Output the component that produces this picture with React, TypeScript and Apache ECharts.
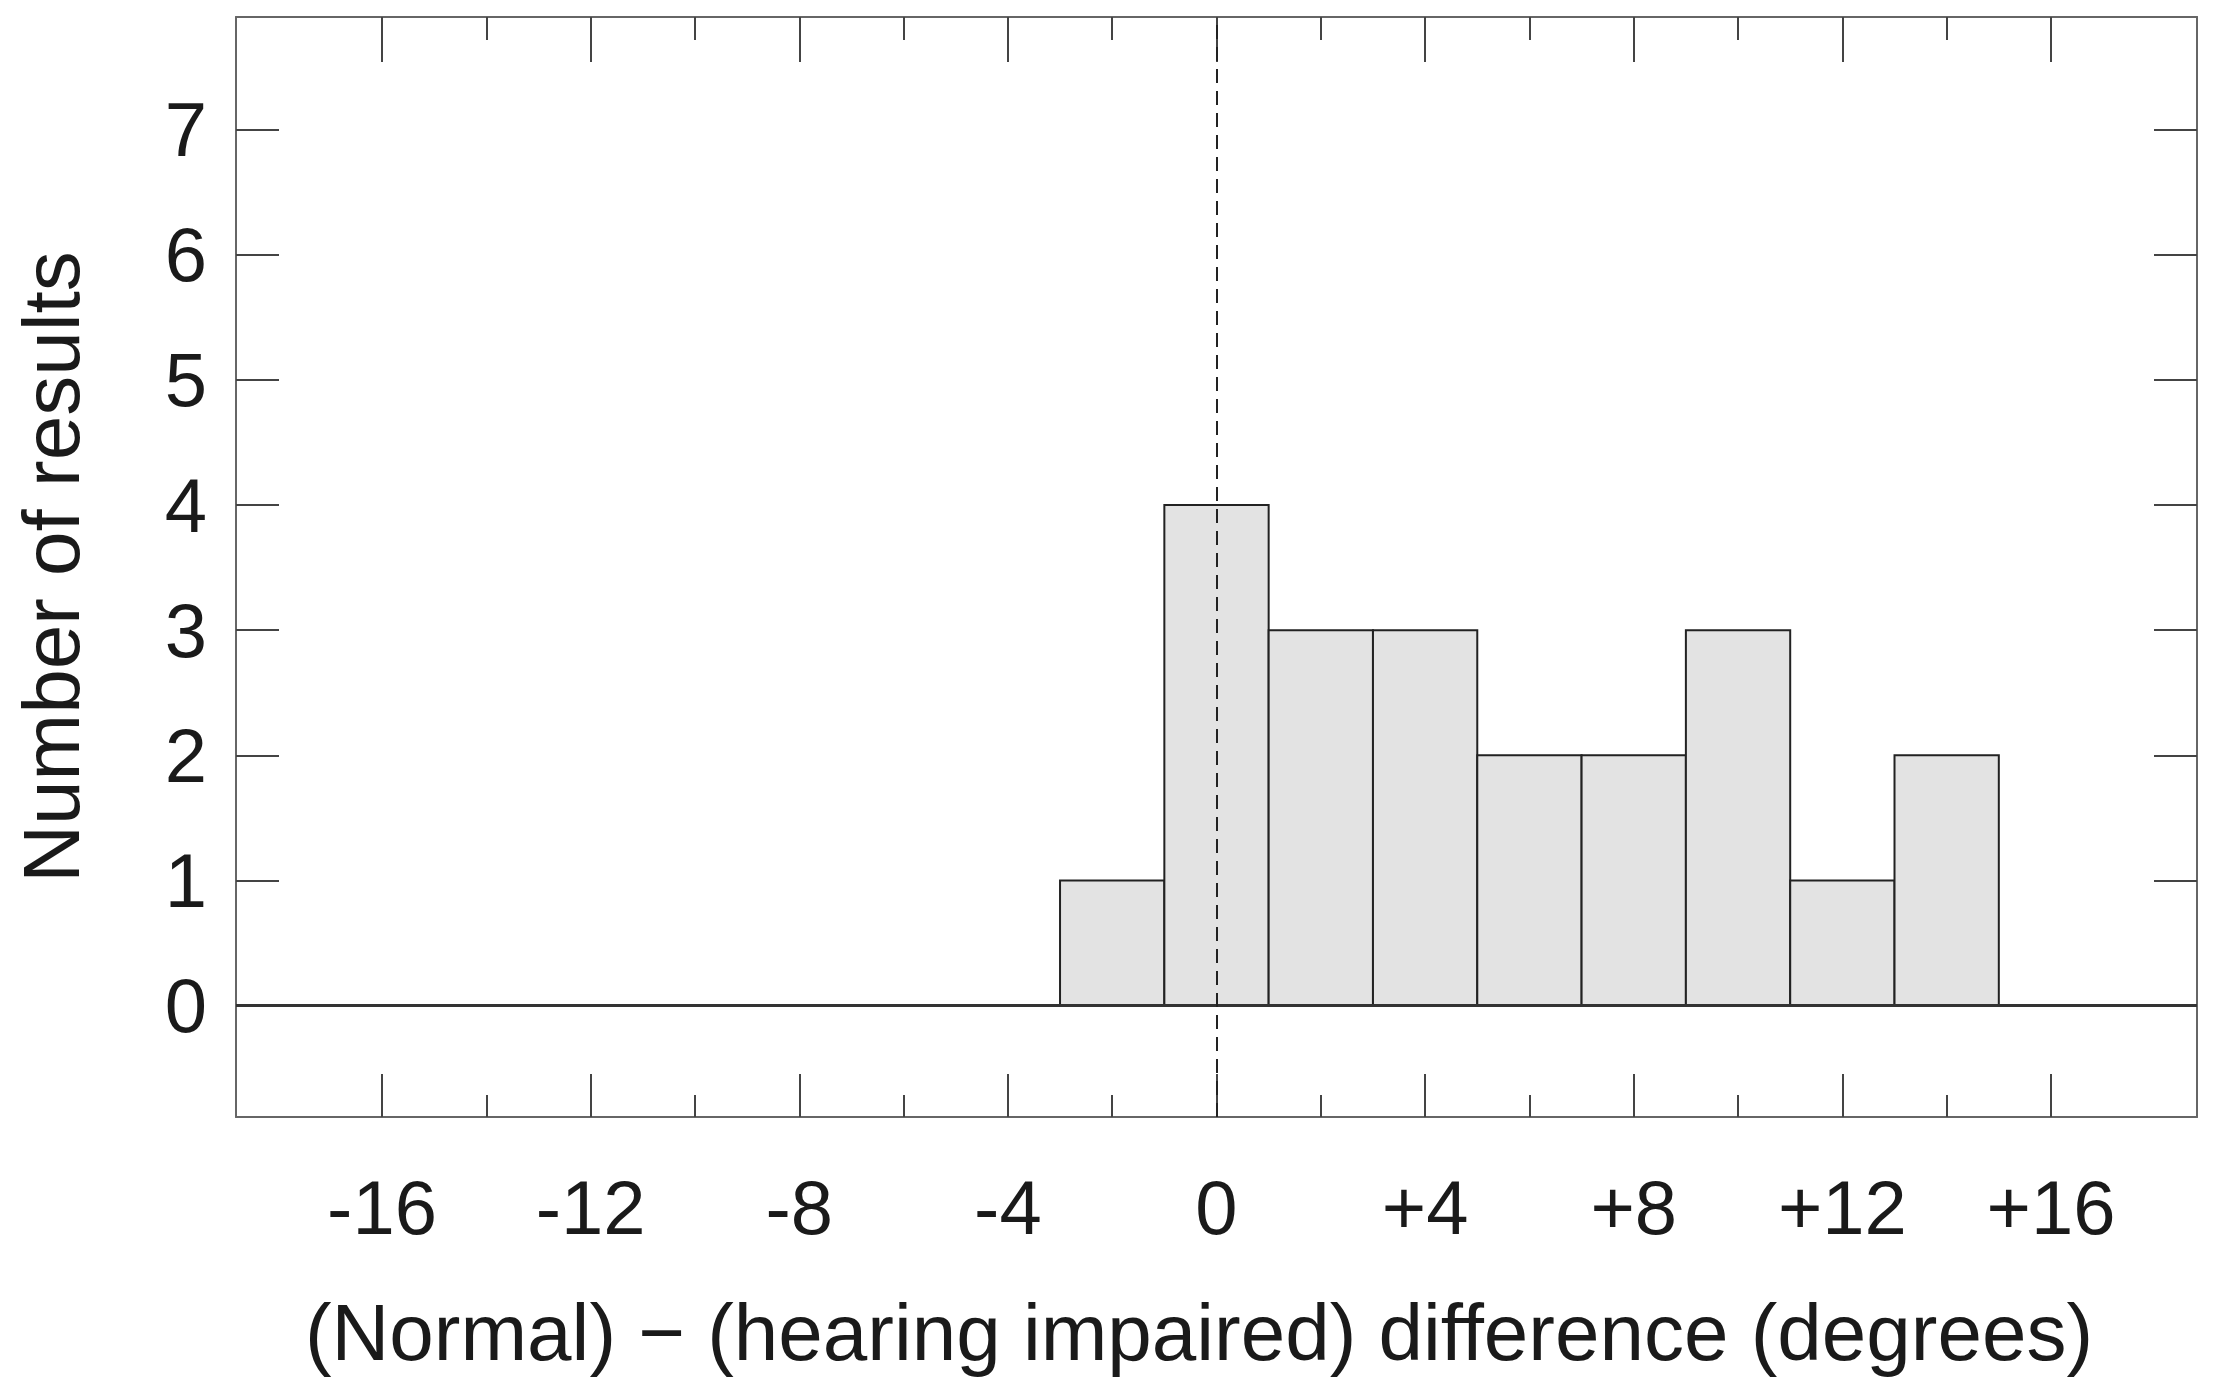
import React, { useEffect, useRef } from "react";
import * as echarts from "echarts";

// Histogram bins (degrees) and counts
const binStarts = [-3, -1, 1, 3, 5, 7, 9, 11, 13];
const binEnds = [-1, 1, 3, 5, 7, 9, 11, 13, 15];
const counts = [1, 4, 3, 3, 2, 2, 3, 1, 2];

// Axis ticks / labels
const xLabelValues = [-16, -12, -8, -4, 0, 4, 8, 12, 16];
const xMajorTicks = [-16, -12, -8, -4, 0, 4, 8, 12, 16];
const xMinorTicks = [-14, -10, -6, -2, 2, 6, 10, 14];
const yTicks = [0, 1, 2, 3, 4, 5, 6, 7];

const X_MIN = -18.8;
const X_MAX = 18.8;
const Y_MIN = -0.89;
const Y_MAX = 7.9;

const FONT = "'Liberation Sans', Arial, sans-serif";
const TEXT = "#1a1a1a";
const LINE = "#666";
const TICK = "#444";

function xAxisBase(position: "top" | "bottom", ticks: number[], len: number, showLine: boolean, showLabel: boolean, extra: any = {}) {
  return {
    type: "value",
    position,
    min: X_MIN,
    max: X_MAX,
    splitLine: { show: false },
    axisLine: { show: showLine, onZero: false, lineStyle: { color: LINE, width: 2 } },
    axisTick: {
      show: true,
      inside: true,
      length: len,
      customValues: ticks,
      lineStyle: { color: TICK, width: 2 },
    },
    axisLabel: showLabel
      ? {
          show: true,
          customValues: xLabelValues,
          margin: 52,
          fontSize: 76,
          fontFamily: FONT,
          color: TEXT,
          formatter: (v: number) => (v > 0 ? "+" + v : String(v)),
        }
      : { show: false },
    ...extra,
  };
}

function yAxisBase(position: "left" | "right", showLabel: boolean, extra: any = {}) {
  return {
    type: "value",
    position,
    min: Y_MIN,
    max: Y_MAX,
    splitLine: { show: false },
    axisLine: { show: true, onZero: false, lineStyle: { color: LINE, width: 2 } },
    axisTick: {
      show: true,
      inside: true,
      length: 43,
      customValues: yTicks,
      lineStyle: { color: TICK, width: 2 },
    },
    axisLabel: showLabel
      ? {
          show: true,
          customValues: yTicks,
          margin: 29,
          fontSize: 76,
          fontFamily: FONT,
          color: TEXT,
        }
      : { show: false },
    ...extra,
  };
}

export default function App() {
  const ref = useRef<HTMLDivElement>(null);

  useEffect(() => {
    if (!ref.current) return;
    const chart = echarts.init(ref.current, null, { renderer: "svg" });

    const option: any = {
      animation: false,
      backgroundColor: "#ffffff",
      grid: { left: 236, right: 20, top: 17, bottom: 283, containLabel: false },
      xAxis: [
        xAxisBase("bottom", xMajorTicks, 43, true, true, {
          name: "(Normal) \u2212 (hearing impaired) difference (degrees)",
          nameLocation: "middle",
          nameGap: 175,
          nameTextStyle: {
            fontSize: 80,
            fontFamily: FONT,
            color: TEXT,
            padding: [0, 35, 0, 0],
          },
        }),
        xAxisBase("bottom", xMinorTicks, 22, false, false),
        xAxisBase("top", xMajorTicks, 45, true, false),
        xAxisBase("top", xMinorTicks, 23, false, false),
      ],
      yAxis: [
        yAxisBase("left", true, {
          name: "Number of results",
          nameLocation: "middle",
          nameGap: 145,
          nameTextStyle: { fontSize: 80, fontFamily: FONT, color: TEXT },
        }),
        yAxisBase("right", false),
      ],
      series: [
        {
          type: "custom",
          xAxisIndex: 0,
          yAxisIndex: 0,
          z: 2,
          data: binStarts.map((s, i) => [s, binEnds[i], counts[i]]),
          encode: { x: [0, 1], y: 2 },
          renderItem: (params: any, api: any) => {
            const p0 = api.coord([api.value(0), api.value(2)]);
            const p1 = api.coord([api.value(1), 0]);
            return {
              type: "rect",
              shape: { x: p0[0], y: p0[1], width: p1[0] - p0[0], height: p1[1] - p0[1] },
              style: { fill: "#e3e3e3", stroke: "#222", lineWidth: 2 },
            };
          },
        },
        {
          type: "line",
          xAxisIndex: 0,
          yAxisIndex: 0,
          z: 5,
          data: [[0, 0]],
          showSymbol: false,
          symbolSize: 0,
          lineStyle: { opacity: 0 },
          silent: true,
          markLine: {
            silent: true,
            symbol: ["none", "none"],
            label: { show: false },
            data: [
              { yAxis: 0, lineStyle: { type: "solid", color: "#333", width: 3 } },
              { xAxis: 0, lineStyle: { type: [14, 8], color: "#222", width: 2 } },
            ],
          },
        },
      ],
    };

    chart.setOption(option);
    return () => chart.dispose();
  }, []);

  return (
    <div
      ref={ref}
      style={{ position: "fixed", left: 0, top: 0, width: 2217, height: 1400, background: "#fff" }}
    />
  );
}
